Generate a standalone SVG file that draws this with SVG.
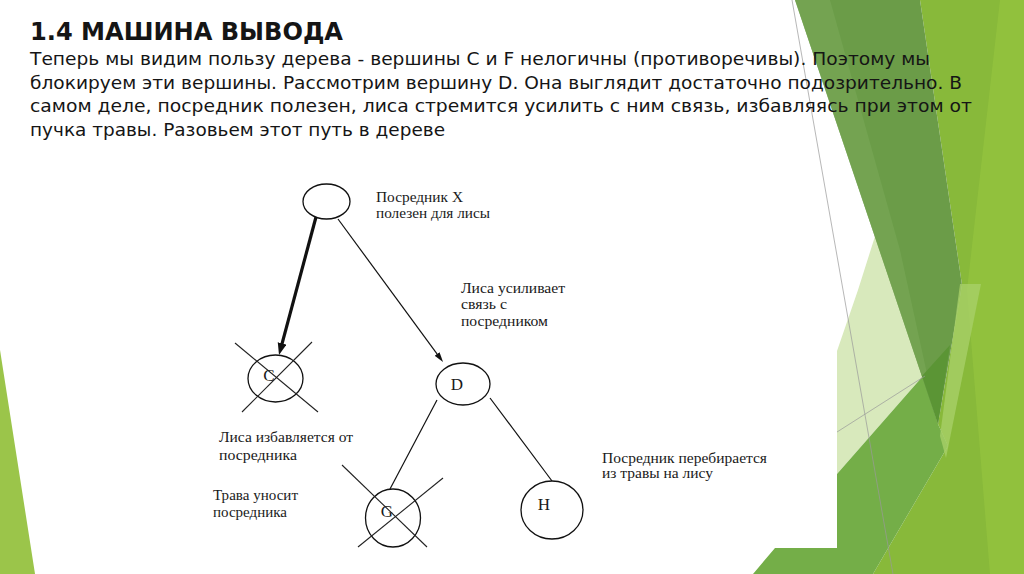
<svg xmlns="http://www.w3.org/2000/svg" width="1024" height="574" viewBox="0 0 1024 574">
<style>
.title{font-family:"DejaVu Sans","Liberation Sans",sans-serif;font-weight:bold;font-size:25px;fill:#151515}
.body{font-family:"DejaVu Sans","Liberation Sans",sans-serif;font-size:17px;fill:#151515}
.lbl{font-family:"Liberation Serif","DejaVu Serif",serif;font-size:14.5px;fill:#1a1a1a}
.nl{font-family:"Liberation Serif","DejaVu Serif",serif;font-size:17px;fill:#1a1a1a;text-anchor:middle}
.node{fill:#fff;stroke:#111;stroke-width:1.3}
.cross{stroke:#222;stroke-width:1.1}
.edge{stroke:#111;stroke-width:1.2;fill:none}
.thick{stroke:#111;stroke-width:3.2;fill:none}
.deco{stroke:#9a9a9a;stroke-width:1;opacity:0.7}
</style>
<defs>
<marker id="ahThick" markerUnits="userSpaceOnUse" markerWidth="14" markerHeight="10" refX="2" refY="4.5" orient="auto">
<path d="M0,0 L12,4.5 L0,9 z" fill="#111"/>
</marker>
<marker id="ahThin" markerUnits="userSpaceOnUse" markerWidth="12" markerHeight="8" refX="2" refY="3" orient="auto">
<path d="M0,0 L10,3 L0,6 z" fill="#111"/>
</marker>
</defs>
<g id="background">
<rect x="0" y="0" width="1024" height="574" fill="#ffffff"/>
<polygon points="0,350 35,574 0,574" fill="#9bc54a"/>
<polygon points="920,0 1024,0 1024,574 873,574 948,446 938,424 962,285" fill="#88b93a"/>
<polygon points="1000,0 1024,0 1024,574 990,574 967,290" fill="#93c33f" opacity="0.8"/>
<polygon points="877,230 858,290 837,351 837,474 923,376 893,290" fill="#d8e9bc"/>
<polygon points="837,474 923,376 938,424 948,446 873,574 753,574 775,548 837,548" fill="#74ae48"/>
<polygon points="795,0 920,0 962,285 938,424" fill="#6b9c48"/>
<polygon points="795,0 830,0 900,250 938,424" fill="#77a655" opacity="0.7"/>
<polygon points="922,376 950,345 938,424" fill="#5b9535"/>
<polygon points="960,284 981,284 946,458 940,436" fill="#a8cf68" opacity="0.8"/>
<line x1="792" y1="0" x2="893" y2="574" class="deco"/>
<line x1="837" y1="432" x2="925" y2="376" class="deco"/>
</g>
<g id="heading">
<text x="30" y="40" class="title" textLength="313" lengthAdjust="spacingAndGlyphs">1.4 МАШИНА ВЫВОДА</text>
<text x="30" y="65" class="body" textLength="900" lengthAdjust="spacingAndGlyphs">Теперь мы видим пользу дерева - вершины C и F нелогичны (противоречивы). Поэтому мы</text>
<text x="30" y="89" class="body" textLength="932" lengthAdjust="spacingAndGlyphs">блокируем эти вершины. Рассмотрим вершину D. Она выглядит достаточно подозрительно. В</text>
<text x="30" y="112" class="body" textLength="942" lengthAdjust="spacingAndGlyphs">самом деле, посредник полезен, лиса стремится усилить с ним связь, избавляясь при этом от</text>
<text x="30" y="136" class="body" textLength="415" lengthAdjust="spacingAndGlyphs">пучка травы. Разовьем этот путь в дереве</text>
</g>
<g id="connectors">
<line x1="316" y1="217" x2="281.6" y2="345.3" class="thick" marker-end="url(#ahThick)"/>
<line x1="338" y1="219" x2="438.3" y2="355.6" class="edge" marker-end="url(#ahThin)"/>
<line x1="437" y1="400" x2="390" y2="489" class="edge"/>
<line x1="490" y1="398" x2="552" y2="481" class="edge"/>
</g>
<g id="node-root">
<ellipse cx="326.5" cy="201.5" rx="23.5" ry="17.5" class="node"/>
<text x="376" y="202" class="lbl" textLength="87" lengthAdjust="spacingAndGlyphs">Посредник X</text>
<text x="376" y="218" class="lbl" textLength="114" lengthAdjust="spacingAndGlyphs">полезен для лисы</text>
</g>
<g id="node-C">
<ellipse cx="275.5" cy="378.5" rx="27.5" ry="23.5" class="node"/>
<text x="269" y="381" class="nl">C</text>
<line x1="235" y1="343" x2="318" y2="412" class="cross"/>
<line x1="312" y1="342" x2="242" y2="412" class="cross"/>
<text x="219" y="442" class="lbl" textLength="134" lengthAdjust="spacingAndGlyphs">Лиса избавляется от</text>
<text x="219" y="460" class="lbl" textLength="78" lengthAdjust="spacingAndGlyphs">посредника</text>
</g>
<g id="node-D">
<ellipse cx="463" cy="384" rx="27" ry="21" class="node"/>
<text x="457" y="390" class="nl">D</text>
<text x="461" y="293" class="lbl" textLength="104" lengthAdjust="spacingAndGlyphs">Лиса усиливает</text>
<text x="461" y="309" class="lbl" textLength="46" lengthAdjust="spacingAndGlyphs">связь с</text>
<text x="461" y="326" class="lbl" textLength="87" lengthAdjust="spacingAndGlyphs">посредником</text>
</g>
<g id="node-G">
<ellipse cx="393" cy="518" rx="27.5" ry="29" class="node"/>
<text x="387" y="517" class="nl">G</text>
<line x1="342" y1="465" x2="427" y2="547" class="cross"/>
<line x1="443" y1="478" x2="358" y2="547" class="cross"/>
<text x="213" y="500" class="lbl" textLength="85" lengthAdjust="spacingAndGlyphs">Трава уносит</text>
<text x="213" y="517" class="lbl" textLength="74" lengthAdjust="spacingAndGlyphs">посредника</text>
</g>
<g id="node-H">
<ellipse cx="552" cy="510" rx="31" ry="29" class="node"/>
<text x="544" y="510" class="nl">H</text>
<text x="602" y="463" class="lbl" textLength="165" lengthAdjust="spacingAndGlyphs">Посредник перебирается</text>
<text x="602" y="478" class="lbl" textLength="111" lengthAdjust="spacingAndGlyphs">из травы на лису</text>
</g>
</svg>
